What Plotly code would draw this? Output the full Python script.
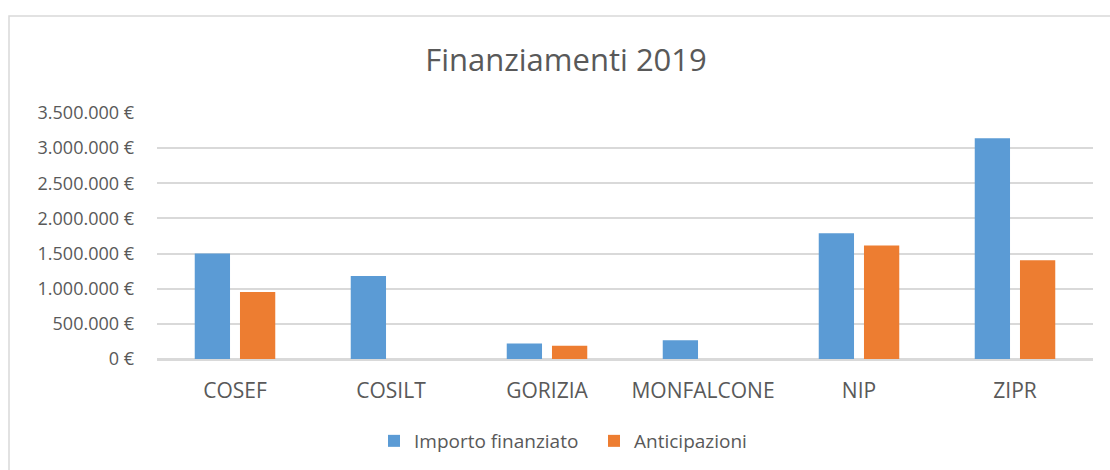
import plotly.graph_objects as go

categories = ["COSEF", "COSILT", "GORIZIA", "MONFALCONE", "NIP", "ZIPR"]
importo_finanziato = [1500000, 1180000, 220000, 265000, 1790000, 3140000]
anticipazioni = [955000, 0, 190000, 0, 1615000, 1405000]
y_ticks = [0, 500000, 1000000, 1500000, 2000000, 2500000, 3000000, 3500000]
y_tick_text = [f"{v:,}".replace(",", ".") + " €" for v in y_ticks]

BLUE = "#5B9BD5"
ORANGE = "#ED7D31"
GRID = "#D9D9D9"
TEXT = "#595959"
FONT = "Open Sans"

W, H = 1110, 470
L, R, T, B = 157, 17, 113, 111
pw, ph = W - L - R, H - T - B

def px_x(p):
    return (p - L) / pw

def px_y(p):
    return (H - B - p) / ph

fig = go.Figure()
fig.add_trace(go.Bar(name="Importo finanziato", x=categories, y=importo_finanziato,
                     marker=dict(color=BLUE, line=dict(width=0))))
fig.add_trace(go.Bar(name="Anticipazioni", x=categories, y=anticipazioni,
                     marker=dict(color=ORANGE, line=dict(width=0))))

fig.update_layout(
    width=W, height=H,
    margin=dict(l=L, r=R, t=T, b=B),
    paper_bgcolor="white", plot_bgcolor="white",
    barmode="group", bargap=0.42, bargroupgap=0.22,
    font=dict(family=FONT, color=TEXT, size=18),
    title=dict(text="Finanziamenti 2019", x=566 / W, xref="container", xanchor="center",
               y=1 - 60 / H, yref="container", yanchor="middle",
               font=dict(family=FONT, size=31, color=TEXT)),
    legend=dict(orientation="h", xref="container", x=594 / W, xanchor="center",
                yref="container", y=1 - 441 / H, yanchor="middle",
                font=dict(family=FONT, size=19, color=TEXT),
                itemwidth=30, entrywidth=175, entrywidthmode="pixels",
                traceorder="normal"),
    showlegend=True,
)
fig.update_yaxes(range=[0, 3500000], tickvals=y_ticks, ticktext=y_tick_text,
                 showgrid=True, gridcolor=GRID, gridwidth=1.5,
                 zeroline=True, zerolinecolor=GRID, zerolinewidth=1.5,
                 showline=False, ticks="", ticklabelstandoff=22,
                 tickfont=dict(family=FONT, size=18, color=TEXT))
fig.update_xaxes(showline=True, linecolor=GRID, linewidth=1.5, ticks="",
                 ticklabelstandoff=12, tickfont=dict(family=FONT, size=21, color=TEXT))

fig.add_shape(type="rect", xref="paper", yref="paper",
              x0=px_x(9), x1=px_x(1120), y0=px_y(485), y1=px_y(16),
              line=dict(color=GRID, width=1.5), fillcolor="rgba(0,0,0,0)", layer="below")

fig.write_html("out.html", config={"displayModeBar": False},
               post_script="document.body.style.margin='0';document.body.style.overflow='hidden';")
